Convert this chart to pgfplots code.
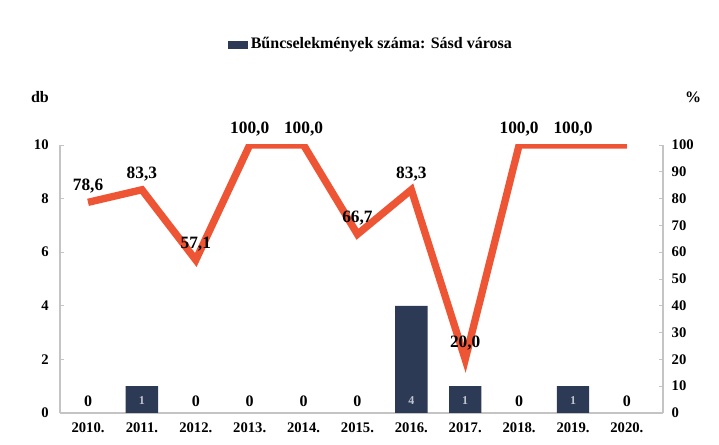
\documentclass[border=0pt]{standalone}
\usepackage{pgfplots}
\pgfplotsset{compat=1.18}
\usepackage{fontspec}
\setmainfont{Liberation Serif}
\definecolor{barblue}{HTML}{2C3A56}
\definecolor{lineorange}{HTML}{EE5535}
\definecolor{axgray}{HTML}{C4C4C4}
\begin{document}
\begin{tikzpicture}
\useasboundingbox (0,0) rectangle (539.25pt,333.75pt);
\pgfplotsset{every axis/.append style={
  scale only axis, width=452.25pt, height=201pt,
  at={(45pt,24pt)}, anchor=south west,
  xmin=-0.52, xmax=10.67, ymin=0,
  font=\bfseries\fontsize{11}{13}\selectfont,
  /pgf/number format/assume math mode=true,
  axis line style={axgray, line width=0.8pt},
  tick style={axgray, line width=0.6pt},
  major tick length=3pt,
}}
\begin{axis}[
  ymax=10, ytick={0,2,...,10},
  axis y line*=left, axis x line*=bottom,
  xtick={0,...,10},
  xticklabels={2010.,2011.,2012.,2013.,2014.,2015.,2016.,2017.,2018.,2019.,2020.},
  x tick style={draw=none},
  yticklabel style={xshift=-5pt},
  xticklabel style={yshift=-4pt},
]
\addplot[ybar, bar width=0.6, fill=barblue, draw=none] coordinates {(1,1) (6,4) (7,1) (9,1)};
\addplot[draw=none, nodes near coords, point meta=explicit symbolic,
  nodes near coords align=center,
  every node near coord/.append style={font=\bfseries\fontsize{12}{14}\selectfont, text=black}]
  coordinates {(0,0.45)[0] (2,0.45)[0] (3,0.45)[0] (4,0.45)[0] (5,0.45)[0] (8,0.45)[0] (10,0.45)[0]};
\addplot[draw=none, nodes near coords, point meta=explicit symbolic,
  nodes near coords align=center,
  every node near coord/.append style={font=\bfseries\fontsize{9}{11}\selectfont, text=barblue!30!white}]
  coordinates {(1,0.45)[1] (6,0.45)[4] (7,0.45)[1] (9,0.45)[1]};
\end{axis}
\begin{axis}[
  ymax=100, ytick={0,10,...,100},
  axis y line*=right, axis x line=none,
  yticklabel style={xshift=3pt},
]
\addplot[lineorange, line width=5.5pt, line join=miter] coordinates {
 (0,78.6) (1,83.3) (2,57.1) (3,100) (4,100) (5,66.7) (6,83.3) (7,20) (8,100) (9,100) (10,100)};
\addplot[draw=none, nodes near coords={\pgfmathprintnumber[use comma,fixed,fixed zerofill,precision=1]{\pgfplotspointmeta}},
  point meta=y,
  every node near coord/.append style={font=\bfseries\fontsize{13}{15}\selectfont, text=black, anchor=south, yshift=3pt}]
  coordinates {(0,78.6) (1,83.3) (2,57.1) (3,100) (4,100) (5,66.7) (6,83.3) (7,20) (8,100) (9,100)};
\end{axis}
\node[font=\bfseries\fontsize{12}{14}\selectfont] at (277.5pt,300pt) {{\color{barblue}\rule{15pt}{6pt}}\,Bűncselekmények száma: Sásd városa};
\node[font=\bfseries\fontsize{12}{14}\selectfont] at (30pt,261pt) {db};
\node[font=\bfseries\fontsize{12}{14}\selectfont] at (519.75pt,261pt) {\%};
\end{tikzpicture}
\end{document}
